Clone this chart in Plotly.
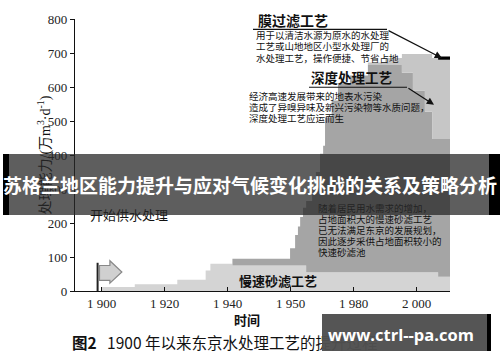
import plotly.graph_objects as go
import numpy as np

# ---------------- data ----------------
years = [1900, 1910.5, 1924, 1933, 1934.5, 1941.5, 1959.8, 1961.4, 1962.3, 1963, 1963.9, 1964.9,
         1966.8, 1968, 1969.3, 1970.3, 1970.9, 1973, 1975, 1978.8, 1984.5, 1990, 1995.3, 1998.8,
         2002.6, 2004.9, 2006.8, 2010.6]
slow_sand = [12, 20, 33, 60, 80, 75, 75, 75, 75, 75, 75, 55, 55, 55, 55, 55, 55, 55, 55, 55,
             55, 55, 55, 55, 55, 55, 42, 42]
rapid_sand = [0, 0, 0, 0, 0, 20, 51, 90, 115, 143, 170, 210, 245, 295, 349, 372, 455, 505, 556,
              579, 610, 610, 587, 535, 472, 392, 405, 405]
advanced = [0] * 20 + [7, 20, 55, 107, 170, 238, 233, 233]
membrane = [0] * 26 + [10, 10]

tick_years = [1900, 1920, 1940, 1960, 1980, 2000]
tick_labels = ["1 900", "1 920", "1 940", "1 950", "1 980", "2 000"]
y_ticks = [0, 100, 200, 300, 400, 500, 600, 700, 800]

start_year = 1898.7        # 开始供水处理
start_line_top = 83
arrow_x = [1899.3, 1902.6, 1906.4]   # body start, head base, tip
arrow_y = [31, 75, 23, 89]           # body low/high, head low/high

# ---------------- figure ----------------
L, R, T, B = 75, 50, 12, 71
W, H = 500, 362
PW, PH = W - L - R, H - T - B


def px(xp):
    return (xp - L) / PW


def py(yp):
    return (H - B - yp) / PH


fig = go.Figure()
cum = np.zeros(len(years))
layers = [(slow_sand, "#d4d4d4", "tozeroy"), (rapid_sand, "#a5a5a5", "tonexty"),
          (advanced, "#c6c6c6", "tonexty"), (membrane, "#000000", "tonexty")]
for vals, col, fill in layers:
    cum = cum + np.array(vals, dtype=float)
    fig.add_trace(go.Scatter(x=years, y=cum.tolist(), mode="lines", line=dict(width=0, shape="hv", color=col),
                             fill=fill, fillcolor=col, hoverinfo="skip", showlegend=False))

serif = "Liberation Serif, Noto Sans CJK SC"
cjk = "Noto Sans CJK SC"

anns = []


def text(t, xp, yp, size, family=cjk, color="#111", xanchor="left", bold=False, angle=0):
    anns.append(dict(x=px(xp), y=py(yp), xref="paper", yref="paper", text=("<b>%s</b>" % t) if bold else t,
                     showarrow=False, xanchor=xanchor, yanchor="middle", textangle=angle,
                     font=dict(family=family, size=size, color=color)))


# y axis title
text("处理能力/(万m<sup>3</sup>·d<sup>-1</sup>)", 45, 152, 14, family=serif, xanchor="center", angle=-90)

# membrane note
text("膜过滤工艺", 256, 13, 14, bold=True)
for i, t in enumerate(["用于以清洁水源为原水的水处理", "工艺或山地地区小型水处理厂的", "水处理工艺，操作便捷、节省占地"]):
    text(t, 254, 28.5 + i * 11.5, 9.5)
# advanced note
text("深度处理工艺", 309, 72, 13.5, bold=True)
for i, t in enumerate(["经济高速发展带来的地表水污染", "造成了异嗅异味及新兴污染物等水质问题，", "深度处理工艺应运而生"]):
    text(t, 247, 90.5 + i * 11.5, 9.5)
# rapid note
for i, t in enumerate(["随着居民用水需求的增加，", "占地面积大的慢速砂滤工艺", "已无法满足东京的发展规划，",
                       "因此逐步采供占地面积较小的", "快速砂滤池"]):
    text(t, 316, 205.5 + i * 11.4, 9.5)
text("开始供水处理", 88, 213, 13)
text("慢速砂滤工艺", 237, 280, 13, bold=True)
text("时间", 247, 320, 13, bold=True, xanchor="center")
text("<b>图2</b>&nbsp;&nbsp;&nbsp;1900 年以来东京水处理工艺的提升过程", 70, 343.5, 15.5)

# arrows
anns.append(dict(x=2008.0, y=685, ax=1990.6, ay=768, xref="x", yref="y", axref="x", ayref="y",
                 text="", showarrow=True, arrowhead=2, arrowsize=1.2, arrowwidth=1.2, arrowcolor="#111"))
anns.append(dict(x=2005.5, y=548, ax=1996.9, ay=599, xref="x", yref="y", axref="x", ayref="y",
                 text="", showarrow=True, arrowhead=2, arrowsize=1.2, arrowwidth=1.2, arrowcolor="#111"))


def box(x0, x1, y0, y1, color):
    anns.append(dict(x=px((x0 + x1) / 2), y=py((y0 + y1) / 2), xref="paper", yref="paper", text="\u00a0",
                     showarrow=False, xanchor="center", yanchor="middle", width=x1 - x0, height=y1 - y0,
                     bgcolor=color, borderpad=0, borderwidth=0, font=dict(size=1)))


# banner
box(3, 500, 151, 212, "rgba(40,40,40,0.75)")
box(3, 9, 151, 212, "#000000")
box(489, 500, 151, 212, "#000000")
text("苏格兰地区能力提升与应对气候变化挑战的关系及策略分析", 250, 182, 19, bold=True, color="#ffffff",
     xanchor="center")
# watermark
box(322, 491, 315, 352, "rgba(80,80,80,0.97)")
box(487, 491, 315, 352, "#000000")
text("www.ctrl--pa.com", 401, 336, 16.5, family="Open Sans", bold=True, color="#ffffff", xanchor="center")

shapes = [
    dict(type="line", xref="paper", yref="paper", x0=px(253), x1=px(387), y0=py(22.7), y1=py(22.7),
         line=dict(color="#111", width=1.2)),
    dict(type="line", xref="paper", yref="paper", x0=px(309), x1=px(407), y0=py(82), y1=py(82),
         line=dict(color="#111", width=1.2)),
    dict(type="line", xref="x", yref="y", x0=start_year, x1=start_year, y0=0, y1=start_line_top,
         line=dict(color="#222", width=2)),
    dict(type="path", xref="x", yref="y",
         path="M %f %f L %f %f L %f %f L %f %f L %f %f L %f %f L %f %f Z" % (
             arrow_x[0], arrow_y[0], arrow_x[1], arrow_y[0], arrow_x[1], arrow_y[2],
             arrow_x[2], (arrow_y[2] + arrow_y[3]) / 2, arrow_x[1], arrow_y[3],
             arrow_x[1], arrow_y[1], arrow_x[0], arrow_y[1]),
         fillcolor="#d0d0d0", line=dict(color="#888", width=1.2)),
]

fig.update_layout(
    width=W, height=H, margin=dict(l=L, r=R, t=T, b=B), paper_bgcolor="white", plot_bgcolor="white",
    showlegend=False, annotations=anns, shapes=shapes,
    xaxis=dict(range=[1900 - 26.7 / 3.15, 1900 + 348.3 / 3.15], tickvals=tick_years, ticktext=tick_labels,
               ticks="inside", ticklen=4, tickcolor="#111", showline=True, linecolor="#111", linewidth=1.3,
               showgrid=False, zeroline=False, tickfont=dict(family=serif, size=13, color="#222")),
    yaxis=dict(range=[0, 800], tickvals=y_ticks, ticks="outside", ticklen=4, tickcolor="#111",
               showline=True, linecolor="#111", linewidth=1.3, showgrid=False, zeroline=False,
               tickfont=dict(family=serif, size=13, color="#222")),
)
fig.write_html("out.html")
